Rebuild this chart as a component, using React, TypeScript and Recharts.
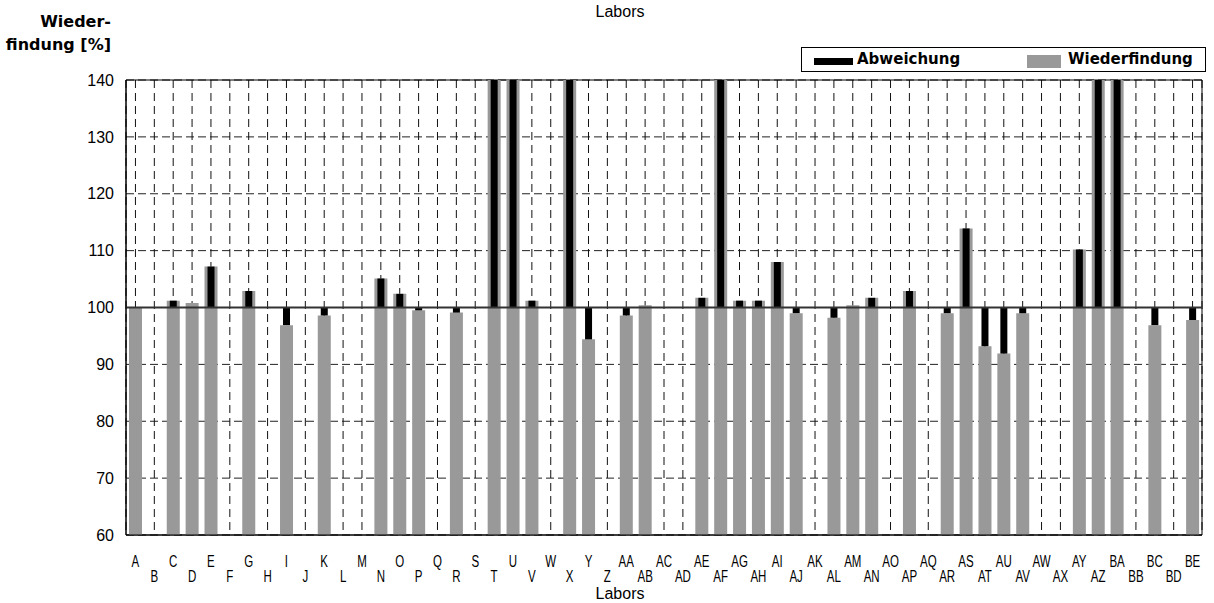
import React from 'react';
import {
  ComposedChart,
  Bar,
  XAxis,
  YAxis,
  CartesianGrid,
  ReferenceLine,
  ReferenceArea,
} from 'recharts';

const labors = [
  'A','B','C','D','E','F','G','H','I','J','K','L','M','N','O','P','Q','R','S','T','U','V','W','X','Y','Z',
  'AA','AB','AC','AD','AE','AF','AG','AH','AI','AJ','AK','AL','AM','AN','AO','AP','AQ','AR','AS','AT','AU','AV','AW','AX','AY','AZ',
  'BA','BB','BC','BD','BE',
];

// Wiederfindung [%] per Labor (null = no value)
const wiederfindung: (number | null)[] = [
  100, null, 101.2, 100.8, 107.2, null, 102.9, null, 96.9, null,
  98.6, null, null, 105.1, 102.4, 99.5, null, 99.1, null, 152,
  155, 101.2, null, 158, 94.4, null, 98.6, 100.4, null, null,
  101.7, 162, 101.2, 101.2, 108.0, 99.0, null, 98.2, 100.4, 101.7,
  null, 102.9, null, 99.0, 113.9, 93.2, 91.9, 99.0, null, null,
  110.2, 150, 153, null, 96.9, null, 97.8,
];

// Abweichung from 100 % (null = not shown)
const abweichung: (number | null)[] = [
  null, null, 1.2, null, 7.2, null, 2.9, null, -3.1, null,
  -1.4, null, null, 5.1, 2.4, -0.5, null, -0.9, null, 52,
  55, 1.2, null, 58, -5.6, null, -1.4, null, null, null,
  1.7, 62, 1.2, 1.2, 8.0, -1.0, null, -1.8, null, 1.7,
  null, 2.9, null, -1.0, 13.9, -6.8, -8.1, -1.0, null, null,
  10.2, 50, 53, null, -3.1, null, -2.2,
];

const yTicks = [60, 70, 80, 90, 100, 110, 120, 130, 140];
const Y_MIN = 60;
const Y_MAX = 140;
const REF = 100;

const data = labors.map((name, i) => ({
  name,
  wf: wiederfindung[i] == null ? null : [Y_MIN, wiederfindung[i] as number],
  ab: abweichung[i] == null ? null : [REF, REF + (abweichung[i] as number)],
}));

const XTick = (props: any) => {
  const { x, y, payload, index } = props;
  const base = index % 2 === 0 ? y + 30 : y + 45;
  return (
    <text
      transform={`translate(${x},${base}) scale(0.72,1.05)`}
      textAnchor="middle"
      fontSize={16}
      fill="#000"
      fontFamily="Liberation Sans, Arial, sans-serif"
    >
      {payload.value}
    </text>
  );
};

export default function App() {
  return (
    <div
      style={{
        position: 'absolute',
        left: 0,
        top: 0,
        width: 1214,
        height: 603,
        background: '#fff',
        fontFamily: 'Liberation Sans, Arial, sans-serif',
      }}
    >
      <ComposedChart
        width={1214}
        height={603}
        data={data}
        margin={{ top: 80, right: 12, bottom: 28, left: 0 }}
        barGap={0}
      >
        <CartesianGrid
          vertical={false}
          stroke="#222"
          strokeDasharray="8 4"
          horizontalValues={yTicks}
        />
        <CartesianGrid horizontal={false} stroke="#111" strokeDasharray="8 5" />
        <XAxis
          xAxisId={0}
          dataKey="name"
          interval={0}
          height={40}
          tickLine={false}
          tickSize={0}
          tick={<XTick />}
          axisLine={{ stroke: '#000' }}
        />
        <XAxis xAxisId={1} dataKey="name" hide />
        <YAxis
          domain={[Y_MIN, Y_MAX]}
          ticks={yTicks}
          allowDataOverflow
          width={126}
          tickLine={false}
          tickSize={0}
          tickMargin={12}
          axisLine={{ stroke: '#000' }}
          tick={{ fill: '#000', fontSize: 16 }}
        />
        <Bar
          xAxisId={0}
          dataKey="wf"
          fill="#999999"
          barSize={13}
          isAnimationActive={false}
        />
        <Bar
          xAxisId={1}
          dataKey="ab"
          fill="#000000"
          barSize={7}
          isAnimationActive={false}
        />
        <ReferenceLine y={REF} stroke="#333" strokeWidth={2} />
        <ReferenceArea y1={Y_MIN} y2={Y_MAX} fill="none" fillOpacity={0} stroke="#000" strokeWidth={1} />
      </ComposedChart>

      {/* top title */}
      <div style={{ position: 'absolute', left: 0, width: 1240, top: 3, textAlign: 'center', fontSize: 16 }}>
        Labors
      </div>
      {/* bottom axis title */}
      <div style={{ position: 'absolute', left: 0, width: 1240, top: 586, textAlign: 'center', fontSize: 16, lineHeight: '15px' }}>
        Labors
      </div>
      {/* y axis title */}
      <div
        style={{
          position: 'absolute',
          right: 1214 - 111,
          top: 10,
          textAlign: 'right',
          fontSize: 16,
          fontWeight: 'bold',
          fontFamily: 'DejaVu Sans, sans-serif',
          lineHeight: '23px',
          whiteSpace: 'nowrap',
        }}
      >
        Wieder-
        <br />
        findung [%]
      </div>
      {/* legend */}
      <div
        style={{
          position: 'absolute',
          left: 801,
          top: 47,
          width: 405,
          height: 25,
          border: '1px solid #000',
          boxSizing: 'border-box',
        }}
      >
        <div style={{ position: 'absolute', left: 12, top: 10, width: 39, height: 7, background: '#000' }} />
        <div
          style={{
            position: 'absolute',
            left: 55,
            top: 2,
            fontSize: 15,
            fontWeight: 'bold',
            fontFamily: 'DejaVu Sans, sans-serif',
            whiteSpace: 'nowrap',
          }}
        >
          Abweichung
        </div>
        <div style={{ position: 'absolute', left: 225, top: 7, width: 34, height: 13, background: '#999999' }} />
        <div
          style={{
            position: 'absolute',
            left: 266,
            top: 2,
            fontSize: 15,
            fontWeight: 'bold',
            fontFamily: 'DejaVu Sans, sans-serif',
            whiteSpace: 'nowrap',
          }}
        >
          Wiederfindung
        </div>
      </div>
    </div>
  );
}
